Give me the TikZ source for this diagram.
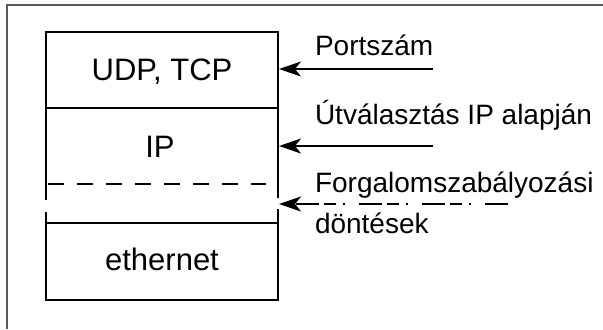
\documentclass[tikz,border=0pt]{standalone}
\usepackage{fontspec}
\setmainfont{Liberation Sans}
\usetikzlibrary{arrows.meta}
\begin{document}
\begin{tikzpicture}[x=0.5pt, y=-0.5pt, line width=1pt,
  layertext/.style={font=\fontsize{15.5}{18}\selectfont, inner sep=0pt, anchor=base},
  note/.style={font=\fontsize{14}{17}\selectfont, inner sep=0pt, anchor=base west},
  feed/.style={-{Stealth[length=11pt, width=7.5pt, inset=3pt]}, line width=1pt},
  sepline/.style={line width=1pt, dash pattern=on 8pt off 6.5pt},
  policy/.style={feed, dash pattern=on 11.5pt off 7pt on 1pt off 3.5pt on 6pt off 2.5pt},
]
\useasboundingbox (0,0) rectangle (603,329);

% outer frame
\draw[line width=0.9pt, black!65] (7,329) -- (7,5) -- (603,5);

% protocol stack
\draw (46,32) rectangle (278,108);
\draw (46,108) -- (46,200);
\draw (278,108) -- (278,198);
\draw[sepline] (48,184) -- (266,184);
\draw (46,212) -- (46,300) -- (278,300) -- (278,209);
\draw (46,223) -- (278,223);

\node[layertext] (udp) at (162,80) {UDP, TCP};
\node[layertext] (ip) at (160,157) {IP};
\node[layertext] (eth) at (162,270) {ethernet};

% annotations
\node[note] (port) at (314,55) {Portszám};
\node[note] (route) at (314,124) {Útválasztás IP alapján};
\node[note] (flow) at (314,192) {Forgalomszabályozási};
\node[note] (decide) at (314,233) {döntések};

\coordinate (portFrom) at (433,69);
\coordinate (portTo) at (279,69);
\coordinate (routeFrom) at (433,146);
\coordinate (routeTo) at (279,146);
\coordinate (flowFrom) at (508,204);
\coordinate (flowTo) at (279,204);

\draw[feed] (portFrom) -- (portTo);
\draw[feed] (routeFrom) -- (routeTo);
\draw[policy] (flowFrom) -- (flowTo);
\end{tikzpicture}
\end{document}
